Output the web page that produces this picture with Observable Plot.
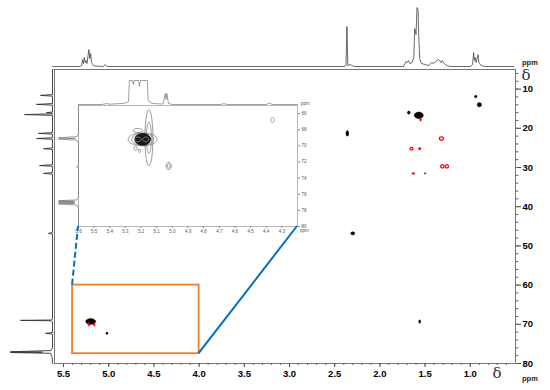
<!DOCTYPE html>
<html><head><meta charset="utf-8">
<script src="https://cdn.jsdelivr.net/npm/d3@7"></script>
<script src="https://cdn.jsdelivr.net/npm/@observablehq/plot@0.6"></script>
<style>
body{margin:0;background:#fff;}
#wrap{position:relative;width:550px;height:390px;background:#fff;overflow:hidden;font-family:"Liberation Sans",Arial,sans-serif;}
</style></head><body><div id="wrap"></div>
<script>
// ---------- data ----------
// 1H projection (ppm, height)
const h1Spectrum = [[5.62,0],[5.32,0],[5.30,1],[5.29,7],[5.28,3],[5.27,9],[5.26,4],[5.25,6],[5.24,3],[5.22,17],[5.21,8],[5.20,13],[5.19,4],[5.17,1],[5.15,0.5],[5.06,0],[5.04,2],[5.02,0],
 [2.40,0],[2.375,1],[2.365,40],[2.355,1],[2.33,2],[2.31,1],[2.28,0],
 [1.74,0],[1.71,5],[1.70,4],[1.685,6],[1.67,3],[1.645,4],[1.625,9],[1.615,38],[1.60,32],[1.59,59],[1.578,57],[1.57,30],[1.56,8],[1.54,3],[1.50,2],[1.46,1],[1.43,4],[1.41,3],[1.38,5],[1.355,7],[1.34,6],[1.325,4],[1.31,6],[1.29,3],[1.26,1],[1.22,0],
 [1.00,0],[0.975,2],[0.963,14],[0.955,6],[0.945,9],[0.935,4],[0.915,12],[0.905,4],[0.88,1],[0.84,0],[0.52,0]];
// 13C projection (ppm, height)
const c13Spectrum = [[5,0],[11.4,0],[11.6,12],[11.8,0],[13.7,0],[13.9,16],[14.1,0],[15.85,0],[16.0,6],[16.15,0],[16.3,0],[16.5,28],[16.7,0],[21.1,0],[21.3,14],[21.5,0],[22.4,0],[22.6,16],[22.8,0],[25.0,0],[25.2,9],[25.4,0],[29.3,0],[29.5,13],[29.7,0],[31.3,0],[31.5,9],[31.7,0],[46.6,0],[46.8,4],[47.0,0],[68.6,0],[68.9,1],[69.0,32],[69.1,1],[69.4,0],[72.1,0],[72.3,7],[72.5,0],[76.0,0],[76.7,1.5],[77.0,42],[77.1,10],[77.2,42],[77.4,2],[78.2,0.5],[80,0]];
// positive (black) cross peaks
const posX = [1.68, 1.57, 0.94, 0.90, 2.36, 2.30, 1.56, 5.20, 5.02];
const posY = [16.0, 16.7, 11.9, 14.0, 21.3, 46.8, 69.3, 69.3, 72.3];
// negative (red) cross peaks
const negX = [1.55, 1.32, 1.65, 1.56, 1.31, 1.26, 1.63, 1.50, 5.22, 5.16];
const negY = [17.8, 22.6, 25.2, 25.2, 29.7, 29.7, 31.5, 31.5, 70.0, 70.0];
// zoom box (ppm)
const zoomBox = [{x1: 5.4, x2: 4.0, y1: 60, y2: 77.5}];
// ticks
const xMajor = [5.5, 5.0, 4.5, 4.0, 3.5, 3.0, 2.5, 2.0, 1.5, 1.0];
const yMajor = [10, 20, 30, 40, 50, 60, 70, 80];
const insetXTicks = [5.6, 5.5, 5.4, 5.3, 5.2, 5.1, 5.0, 4.9, 4.8, 4.7, 4.6, 4.5, 4.4, 4.3];
const insetYTicks = [66, 68, 70, 72, 74, 76, 78, 80];
// inset projections
const insetH1 = [[5.6,0],[5.45,0],[5.42,1],[5.40,0.3],[5.33,1],[5.30,1.5],[5.28,3],[5.275,24],[5.255,24],[5.25,20],[5.245,24],[5.215,24],[5.21,18],[5.205,24],[5.16,24],[5.155,4],[5.13,1],[5.06,0.5],[5.045,11],[5.04,5],[5.035,11],[5.025,1],[5.0,0],[4.69,0],[4.67,1],[4.65,0],[4.40,0],[4.38,1.5],[4.36,0],[4.2,0]];
const insetC13 = [[65,0],[68.5,0],[68.85,1.5],[69.0,20],[69.08,3],[69.16,20],[69.3,1.5],[69.7,0],[72.5,0],[72.6,2],[72.7,0],[76.3,0],[76.7,1.5],[76.8,20],[76.86,4],[76.93,20],[77.0,4],[77.07,20],[77.14,4],[77.2,20],[77.35,1.5],[77.8,0],[80,0]];
// inset contours (centres)
const insetX = [5.19, 5.19, 5.15, 5.15, 5.22, 5.19, 5.22, 5.17, 5.235, 5.21, 5.023, 5.023, 4.36];
const insetY = [69.2, 69.2, 69.0, 69.0, 68.1, 69.2, 69.2, 69.2, 70.3, 70.6, 72.5, 72.5, 66.8];

// ---------- styles (sizes in px) ----------
const posR = [1.5, 4.5, 1.3, 2.2, 1.4, 2.0, 1.0, 5.0, 1.1];
const posA = [1, 0.75, 1, 1, 2, 0.85, 1.8, 0.6, 1];
const negR = [1.0, 2.0, 1.6, 1.4, 1.7, 1.7, 1.4, 1.1, 0.8, 0.8];
const negA = [1.3, 0.85, 0.8, 0.8, 1, 1, 0.7, 0.6, 2.5, 2.5];
const negRing = [false, true, true, false, true, true, false, false, false, false];
const inR = [14.5, 11, 4, 2.6, 5, 8, 3, 3, 1.6, 1.2, 2.6, 1.4, 1.8];
const inA = [0.45, 0.55, 7, 6, 0.4, 0.72, 0.8, 0.8, 1.3, 1.5, 1.4, 1.4, 1.4];
const inFill = ["none","none","none","none","none","#1a1a1a","none","none","none","none","none","none","none"];
const inStroke = ["#666","#555","#555","#666","#666","#000","#aaa","#aaa","#555","#555","#555","#666","#777"];

const ell = (a) => ({draw(ctx, size) {
  const rx = Math.sqrt(size / Math.PI), ry = rx * a, k = 0.5523;
  ctx.moveTo(rx, 0);
  ctx.bezierCurveTo(rx, k*ry, k*rx, ry, 0, ry);
  ctx.bezierCurveTo(-k*rx, ry, -rx, k*ry, -rx, 0);
  ctx.bezierCurveTo(-rx, -k*ry, -k*rx, -ry, 0, -ry);
  ctx.bezierCurveTo(k*rx, -ry, rx, -k*ry, rx, 0);
  ctx.closePath();
}});

const wrap = document.getElementById("wrap");
function place(svg, left, top) {
  svg.style.position = "absolute";
  svg.style.left = left + "px";
  svg.style.top = top + "px";
  svg.style.background = "transparent";
  svg.style.overflow = "visible";
  svg.style.maxWidth = "none";
  wrap.appendChild(svg);
  return svg;
}
const F = "Liberation Sans, Arial, sans-serif";

// ---------- main 2D plot ----------
const posMarks = posX.map((x, i) => Plot.dot([{x, y: posY[i]}], {x: "x", y: "y", r: posR[i], symbol: ell(posA[i]), fill: "#000", stroke: "#000", strokeWidth: 0.4}));
const negMarks = negX.map((x, i) => Plot.dot([{x, y: negY[i]}], {x: "x", y: "y", r: negR[i], symbol: ell(negA[i]), fill: negRing[i] ? "none" : "#f00", stroke: "#f00", strokeWidth: negRing[i] ? 1.2 : 0.4}));

const main = Plot.plot({
  width: 550, height: 390,
  marginLeft: 54, marginRight: 35, marginTop: 69, marginBottom: 27,
  x: {domain: [5.6, 0.5], label: null},
  y: {domain: [80, 5], label: null},
  style: {fontFamily: F},
  marks: [
    Plot.frame({stroke: "#555", strokeWidth: 0.8}),
    Plot.axisX(xMajor, {anchor: "bottom", tickSize: 4, tickPadding: 3, tickFormat: d => d.toFixed(1), fontWeight: "bold", fontSize: 9.5, stroke: "#444", label: null}),
    Plot.axisX(d3.range(6, 56).map(i => i / 10), {anchor: "bottom", tickSize: 2, tickFormat: () => "", stroke: "#666", label: null}),
    Plot.axisY(yMajor, {anchor: "right", tickSize: 5, tickPadding: 2, fontWeight: "bold", fontSize: 9.5, stroke: "#444", label: null}),
    Plot.axisY(d3.range(6, 81, 2), {anchor: "right", tickSize: 2.5, tickFormat: () => "", stroke: "#666", label: null}),
    ...posMarks,
    ...negMarks,
    Plot.rect(zoomBox, {x1: "x1", x2: "x2", y1: "y1", y2: "y2", fill: "none", stroke: "#ED7D31", strokeWidth: 1.8})
  ]
});
place(main, 0, 0);

// ---------- 1H projection (top) ----------
const top1H = Plot.plot({
  width: 550, height: 68,
  marginLeft: 54, marginRight: 35, marginTop: 7, marginBottom: 2,
  x: {domain: [5.6, 0.5], axis: null},
  y: {domain: [0, 59], axis: null},
  marks: [Plot.line(h1Spectrum, {x: d => d[0], y: d => d[1], stroke: "#444", strokeWidth: 0.8})]
});
place(top1H, 0, 0);

// ---------- 13C projection (left) ----------
const left13C = Plot.plot({
  width: 54, height: 390,
  marginLeft: 8, marginRight: 2, marginTop: 69, marginBottom: 27,
  x: {domain: [44, 0], axis: null},
  y: {domain: [80, 5], axis: null},
  marks: [Plot.line(c13Spectrum, {x: d => d[1], y: d => d[0], stroke: "#333", strokeWidth: 0.9})]
});
place(left13C, 0, 0);

// ---------- inset ----------
const IL = 56, IT = 76;
const inMarks = insetX.map((x, i) => Plot.dot([{x, y: insetY[i]}], {x: "x", y: "y", r: inR[i], symbol: ell(inA[i]), fill: inFill[i], stroke: inStroke[i], strokeWidth: 0.6}));
const inset = Plot.plot({
  width: 262, height: 162,
  marginLeft: 22, marginRight: 21, marginTop: 29, marginBottom: 12,
  x: {domain: [5.6, 4.2], label: null},
  y: {domain: [80, 65], label: null},
  style: {fontFamily: F},
  marks: [
    Plot.frame({stroke: "#999", strokeWidth: 0.7}),
    Plot.axisX(insetXTicks, {anchor: "bottom", tickSize: 2, tickPadding: 1, tickFormat: d => d.toFixed(1), fontSize: 4.5, fill: "#555", stroke: "#888", label: null}),
    Plot.axisY(insetYTicks, {anchor: "right", tickSize: 2, tickPadding: 2, fontSize: 4.5, fill: "#555", stroke: "#888", label: null}),
    ...inMarks
  ]
});
place(inset, IL, IT);

const insetTop = Plot.plot({
  width: 262, height: 29,
  marginLeft: 22, marginRight: 21, marginTop: 4, marginBottom: 1,
  x: {domain: [5.6, 4.2], axis: null},
  y: {domain: [0, 24], axis: null},
  marks: [Plot.line(insetH1, {x: d => d[0], y: d => d[1], stroke: "#777", strokeWidth: 0.7})]
});
place(insetTop, IL, IT);

const insetLeft = Plot.plot({
  width: 24, height: 162,
  marginLeft: 2, marginRight: 2, marginTop: 29, marginBottom: 12,
  x: {domain: [20, 0], axis: null},
  y: {domain: [80, 65], axis: null},
  marks: [Plot.line(insetC13, {x: d => d[1], y: d => d[0], stroke: "#777", strokeWidth: 0.7})]
});
place(insetLeft, IL, IT);

// ---------- overlay: connector lines and labels ----------
const mx = main.scale("x"), my = main.scale("y"), ix = inset.scale("x"), iy = inset.scale("y");
const ov = d3.select(wrap).append("svg").attr("width", 550).attr("height", 390)
  .style("position", "absolute").style("left", "0px").style("top", "0px").style("overflow", "visible");
const b = zoomBox[0];
ov.append("line")
  .attr("x1", mx.apply(b.x1)).attr("y1", my.apply(b.y1))
  .attr("x2", IL + ix.apply(5.6)).attr("y2", IT + iy.apply(80))
  .attr("stroke", "#0070C0").attr("stroke-width", 2).attr("stroke-dasharray", "6,3");
ov.append("line")
  .attr("x1", mx.apply(b.x2)).attr("y1", my.apply(b.y2))
  .attr("x2", IL + ix.apply(4.2)).attr("y2", IT + iy.apply(80))
  .attr("stroke", "#0070C0").attr("stroke-width", 2);

const txt = (x, y, s, size, opts = {}) => ov.append("text").attr("x", x).attr("y", y)
  .attr("font-family", opts.family || F).attr("font-size", size)
  .attr("font-weight", opts.weight || "bold").attr("fill", opts.fill || "#222")
  .attr("text-anchor", opts.anchor || "start").text(s);
txt(522, 65, "ppm", 7.5);
txt(526, 80, "δ", 15, {family: "DejaVu Serif, serif", weight: "normal", anchor: "middle", fill: "#333"});
txt(522, 381, "ppm", 7.5);
txt(497, 378, "δ", 15, {family: "DejaVu Serif, serif", weight: "normal", anchor: "middle", fill: "#333"});
txt(301, 105, "ppm", 4.5, {weight: "normal", fill: "#555"});
txt(300, 232, "ppm", 4.5, {weight: "normal", fill: "#555"});
</script></body></html>
